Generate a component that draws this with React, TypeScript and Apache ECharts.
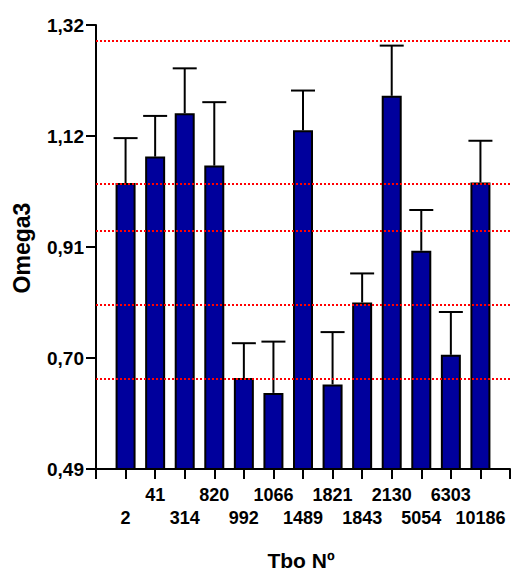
import React, { useEffect, useRef } from "react";
import * as echarts from "echarts";

// Sample numbers (Tbo Nº) along the category axis; the empty ends pad the axis.
const categories = ["", "2", "41", "314", "820", "992", "1066", "1489", "1821", "1843", "2130", "5054", "6303", "10186", ""];

// Mean Omega3 per sample
const means = [1.031, 1.081, 1.163, 1.064, 0.662, 0.634, 1.131, 0.65, 0.805, 1.196, 0.903, 0.706, 1.032];

// Error bar length above each mean
const errors = [0.085, 0.077, 0.085, 0.12, 0.066, 0.097, 0.075, 0.099, 0.055, 0.095, 0.077, 0.081, 0.079];

// Red dotted reference levels
const refLevels = [1.298, 1.026, 0.936, 0.799, 0.663];

// Y tick positions and their printed labels
const yTickValues = [0.49, 0.7, 0.91, 1.12, 1.33];
const yTickLabels = ["0,49", "0,70", "0,91", "1,12", "1,32"];

const FONT = "'Liberation Sans', Arial, sans-serif";

export default function App() {
  const ref = useRef<HTMLDivElement>(null);

  useEffect(() => {
    if (!ref.current) return;
    const chart = echarts.init(ref.current, null, { renderer: "svg" });

    const barData = ["-", ...means, "-"];
    const errData = means.map((m, i) => [i + 1, m, m + errors[i]]);

    chart.setOption({
      animation: false,
      backgroundColor: "#ffffff",
      grid: { left: 96, right: 2, top: 25, bottom: 102, containLabel: false, outerBoundsMode: "none" },
      xAxis: {
        type: "category",
        data: categories,
        boundaryGap: false,
        axisLine: { show: true, lineStyle: { color: "#000", width: 2 } },
        axisTick: { show: true, interval: 0, length: 10, lineStyle: { color: "#000", width: 2 } },
        axisLabel: {
          interval: 0,
          margin: 14,
          color: "#000",
          fontFamily: FONT,
          fontWeight: "bold",
          fontSize: 18,
          lineHeight: 23,
          formatter: (v: string, i: number) => (i % 2 === 1 ? "\n" + v : v),
        },
        splitLine: { show: false },
      },
      yAxis: {
        type: "value",
        min: 0.49,
        max: 1.33,
        axisLine: { show: true, lineStyle: { color: "#000", width: 2 } },
        axisTick: { show: true, length: 10, customValues: yTickValues, lineStyle: { color: "#000", width: 2 } },
        axisLabel: {
          margin: 12,
          color: "#000",
          fontFamily: FONT,
          fontWeight: "bold",
          fontSize: 19,
          customValues: yTickValues,
          formatter: (v: number) => {
            let best = 0;
            yTickValues.forEach((t, i) => {
              if (Math.abs(t - v) < Math.abs(yTickValues[best] - v)) best = i;
            });
            return yTickLabels[best];
          },
        },
        splitLine: { show: false },
      },
      graphic: [
        {
          type: "text",
          x: 22,
          y: 248,
          rotation: Math.PI / 2,
          style: {
            text: "Omega3",
            fill: "#000",
            font: `bold 23px ${FONT}`,
            textAlign: "center",
            textVerticalAlign: "middle",
          },
        },
        {
          type: "text",
          x: 301,
          y: 560,
          style: {
            text: "Tbo Nº",
            fill: "#000",
            font: `bold 21px ${FONT}`,
            textAlign: "center",
            textVerticalAlign: "middle",
          },
        },
      ],
      series: [
        {
          type: "custom",
          z: 1,
          data: errData,
          renderItem: (params: any, api: any) => {
            const base = api.coord([api.value(0), api.value(1)]);
            const top = api.coord([api.value(0), api.value(2)]);
            const half = 12;
            const style = { stroke: "#000", lineWidth: 2 };
            return {
              type: "group",
              children: [
                { type: "line", shape: { x1: base[0], y1: base[1], x2: top[0], y2: top[1] }, style },
                { type: "line", shape: { x1: top[0] - half, y1: top[1], x2: top[0] + half, y2: top[1] }, style },
              ],
            };
          },
        },
        {
          type: "bar",
          z: 2,
          data: barData,
          barWidth: 20,
          itemStyle: { color: "#00009C", borderColor: "#000", borderWidth: 2 },
          markLine: {
            silent: true,
            symbol: ["none", "none"],
            label: { show: false },
            lineStyle: { color: "#ff0000", width: 2, type: [2, 2] },
            data: refLevels.map((v) => ({ yAxis: v })),
          },
        },
      ],
    });

    return () => chart.dispose();
  }, []);

  return <div ref={ref} style={{ position: "fixed", left: 0, top: 0, width: 512, height: 571 }} />;
}
